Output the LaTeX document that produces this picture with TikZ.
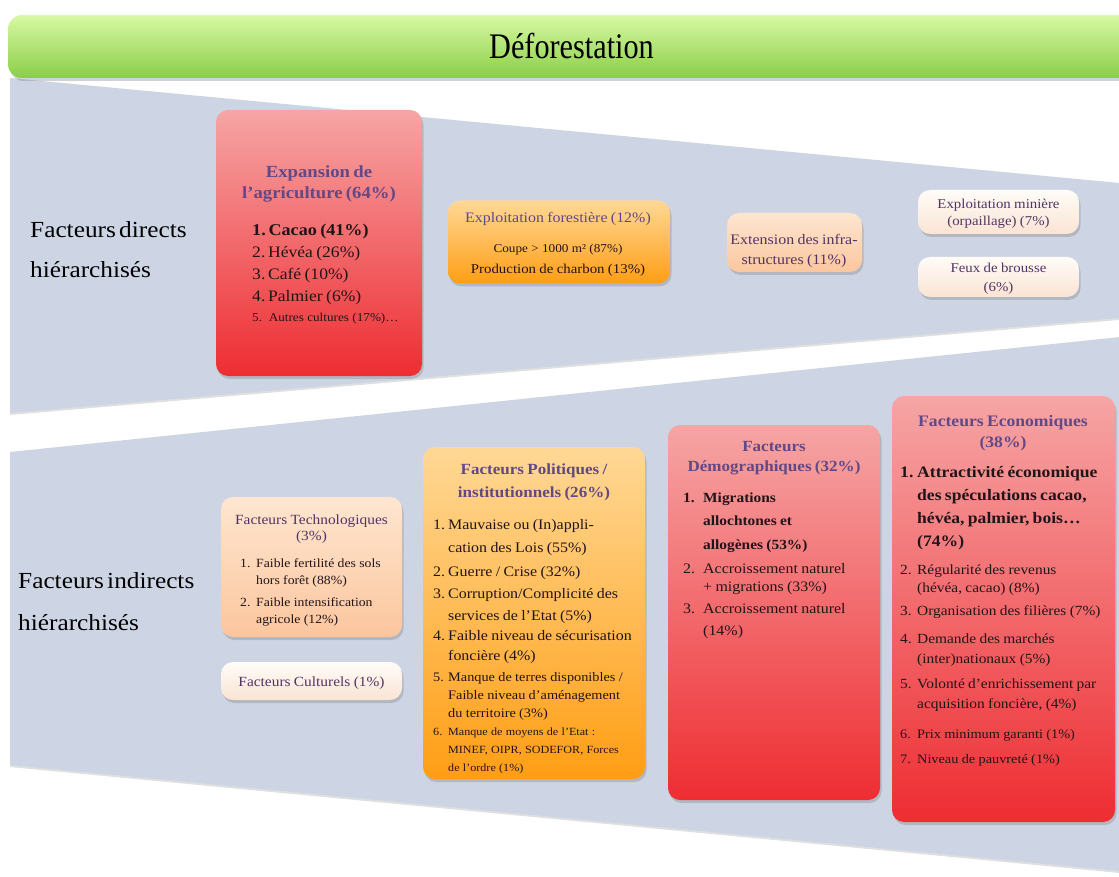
\documentclass[tikz,border=0pt]{standalone}
\usepackage{fontspec}
\setmainfont{Liberation Serif}[FakeStretch=1.1]
\newfontfamily\titlefont{Liberation Serif}[FakeStretch=0.84]
\usetikzlibrary{shadows}
\definecolor{bandc}{RGB}{205,213,228}
\definecolor{greenT}{RGB}{216,249,165}
\definecolor{greenB}{RGB}{138,206,70}
\definecolor{redT}{RGB}{246,165,165}
\definecolor{redB}{RGB}{238,45,50}
\definecolor{oraT}{RGB}{255,216,150}
\definecolor{oraB}{RGB}{255,158,20}
\definecolor{peaT}{RGB}{254,230,208}
\definecolor{peaB}{RGB}{251,198,158}
\definecolor{ligT}{RGB}{255,252,248}
\definecolor{ligB}{RGB}{250,228,212}
\definecolor{hpur}{RGB}{98,72,134}
\definecolor{lpur}{RGB}{82,52,100}
\definecolor{txtc}{RGB}{35,20,25}
\newlength{\itind}
\newcommand{\inum}[1]{\makebox[\itind][l]{#1}}
\newcommand{\cont}{\hspace*{\itind}}
\newcommand{\fs}[2]{\fontsize{#1}{#2}\selectfont}
\begin{document}
\begin{tikzpicture}[x=1pt,y=-1pt,
  card/.style={rounded corners=12pt, inner sep=0pt, draw=none,
    drop shadow={opacity=0.35, shadow xshift=1.5pt, shadow yshift=-3pt}},
  redcard/.style={card, top color=redT, bottom color=redB},
  oracard/.style={card, top color=oraT, bottom color=oraB},
  peacard/.style={card, top color=peaT, bottom color=peaB},
  ligcard/.style={card, top color=ligT, bottom color=ligB},
  hdr/.style={inner sep=0pt, align=center, text width=#1, anchor=base, text=hpur},
  ctr/.style={inner sep=0pt, align=center, text width=#1, anchor=base, text=lpur},
  lst/.style={inner sep=0pt, align=left, text width=#1, anchor=base west, text=txtc},
  lab/.style={inner sep=0pt, align=left, text width=200, anchor=base west, text=black}]
\useasboundingbox (0,0) rectangle (1119,877);
\fill[white] (0,0) rectangle (1119,877);
% bands
\fill[bandc, drop shadow={opacity=0.25, shadow xshift=0pt, shadow yshift=-2pt}]
  (10,78) -- (1130,184) -- (1130,317) -- (10,413) -- cycle;
\fill[bandc, drop shadow={opacity=0.25, shadow xshift=0pt, shadow yshift=-2pt}]
  (10,452) -- (1130,336) -- (1130,872) -- (10,765) -- cycle;
% banner
\node[card, rounded corners=14pt, top color=greenT, bottom color=greenB,
  minimum width=1127, minimum height=63] (title) at (571.5,46.5)
  {\titlefont\fontsize{36}{40}\selectfont Déforestation};
% left labels
\node[lab] (direct) at (30,238) {\fs{23}{40}Facteurs directs\par hiérarchisés\par};
\node[lab] (indirect) at (18,588) {\fs{23}{42}Facteurs indirects\par hiérarchisés\par};
% ---- direct factors
\node[redcard, minimum width=206, minimum height=266] (agri) at (319,243) {};
\node[hdr=195] (agriH) at (319,178) {\fs{17}{21}\bfseries Expansion de\par l’agriculture (64\%)\par};
\node[lst=170] (agriL) at (252,236) {\fs{16.5}{22}\bfseries 1.\,Cacao (41\%)\par
  \mdseries\fs{16}{22}2.\,Hévéa (26\%)\par
  3.\,Café (10\%)\par
  4.\,Palmier (6\%)\par
  \fs{12}{20}5.\ \ Autres cultures (17\%)…\par};
\node[oracard, minimum width=222, minimum height=83] (foret) at (559,242) {};
\node[hdr=215] (foretT) at (558,223) {\fs{14.5}{30}Exploitation forestière (12\%)\par
  \color{txtc}\fs{12}{30}Coupe > 1000 m² (87\%)\par
  \fs{13.5}{21}Production de charbon (13\%)\par};
\node[peacard, minimum width=135, minimum height=59] (infra) at (794.5,242.5) {};
\node[ctr=150] (infraT) at (794,245) {\fs{14.5}{20}Extension des infra-\par structures (11\%)\par};
\node[ligcard, minimum width=161, minimum height=44] (mine) at (998.5,212) {};
\node[ctr=160] (mineT) at (998.5,209) {\fs{13.5}{17}Exploitation minière\par (orpaillage) (7\%)\par};
\node[ligcard, minimum width=161, minimum height=40] (feux) at (998.5,277) {};
\node[ctr=160] (feuxT) at (998.5,273) {\fs{13.5}{18}Feux de brousse\par (6\%)\par};
% ---- indirect factors
\node[peacard, minimum width=181, minimum height=140] (tech) at (311.5,567) {};
\node[ctr=180] (techH) at (311.5,524) {\fs{14}{16}Facteurs Technologiques\par (3\%)\par};
\node[lst=160] (techL) at (240,567) {\setlength{\itind}{16pt}\fs{12.5}{17}%
  \inum{1.}Faible fertilité des sols\par
  \cont hors forêt (88\%)\par
  \fs{12.5}{22}\inum{2.}Faible intensification\par
  \fs{12.5}{17}\cont agricole (12\%)\par};
\node[ligcard, minimum width=181, minimum height=38] (cult) at (311.5,681) {};
\node[ctr=180] (cultT) at (311.5,686) {\fs{14}{16}Facteurs Culturels (1\%)\par};
\node[oracard, minimum width=222, minimum height=332] (poli) at (534,613) {};
\node[hdr=215] (poliH) at (534,474) {\fs{15.5}{23}\bfseries Facteurs Politiques /\par institutionnels (26\%)\par};
\node[lst=212] (poliL) at (433,529) {\setlength{\itind}{15pt}\fs{14.5}{23}%
  \inum{1.}Mauvaise ou (In)appli-\par
  \cont cation des Lois (55\%)\par
  \fs{14.5}{24}\inum{2.}Guerre / Crise (32\%)\par
  \fs{14.5}{22}\inum{3.}Corruption/Complicité des\par
  \cont services de l’Etat (5\%)\par
  \fs{14.5}{20}\inum{4.}Faible niveau de sécurisation\par
  \cont foncière (4\%)\par
  \fs{13}{21}\inum{5.}Manque de terres disponibles /\par
  \fs{13}{18}\cont Faible niveau d’aménagement\par
  \cont du territoire (3\%)\par
  \fs{11}{18}\inum{6.}Manque de moyens de l’Etat :\par
  \cont MINEF, OIPR, SODEFOR, Forces\par
  \cont de l’ordre (1\%)\par};
\node[redcard, minimum width=212, minimum height=375] (demo) at (774,612.5) {};
\node[hdr=210] (demoH) at (774,451) {\fs{15.5}{20}\bfseries Facteurs\par Démographiques (32\%)\par};
\node[lst=192] (demoL) at (683,502) {\setlength{\itind}{20pt}\fs{14}{23}\bfseries
  \inum{1.}Migrations\par
  \cont allochtones et\par
  \fs{14}{24}\cont allogènes (53\%)\par
  \mdseries\fs{14.5}{24}\inum{2.}Accroissement naturel\par
  \fs{14.5}{18}\cont + migrations (33\%)\par
  \fs{14.5}{22}\inum{3.}Accroissement naturel\par
  \cont (14\%)\par};
\node[redcard, minimum width=223, minimum height=426] (eco) at (1003.5,609) {};
\node[hdr=220] (ecoH) at (1003,426) {\fs{16}{21}\bfseries Facteurs Economiques\par (38\%)\par};
\node[lst=214] (ecoL) at (900,477) {\setlength{\itind}{17pt}\fs{16}{25}\bfseries
  \inum{1.}Attractivité économique\par
  \fs{16}{23}\cont des spéculations cacao,\par
  \cont hévéa, palmier, bois…\par
  \cont (74\%)\par
  \mdseries\fs{14}{28}\inum{2.}Régularité des revenus\par
  \fs{14}{18}\cont (hévéa, cacao) (8\%)\par
  \fs{14}{23}\inum{3.}Organisation des filières (7\%)\par
  \fs{14}{28}\inum{4.}Demande des marchés\par
  \fs{14}{20}\cont (inter)nationaux (5\%)\par
  \fs{14}{25}\inum{5.}Volonté d’enrichissement par\par
  \fs{14}{20}\cont acquisition foncière, (4\%)\par
  \fs{13}{30}\inum{6.}Prix minimum garanti (1\%)\par
  \fs{13}{25}\inum{7.}Niveau de pauvreté (1\%)\par};
\end{tikzpicture}
\end{document}
